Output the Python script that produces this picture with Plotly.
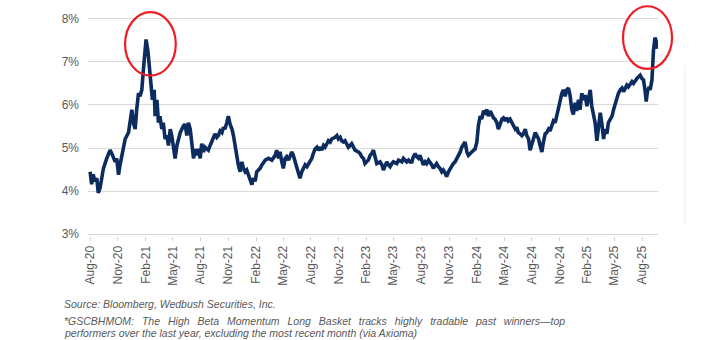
import plotly.graph_objects as go

dates = [
"2020-08-01","2020-08-06","2020-08-11","2020-08-17","2020-08-23","2020-08-28","2020-09-03","2020-09-14","2020-09-25","2020-10-06",
"2020-10-12","2020-10-23","2020-10-28","2020-11-03","2020-11-08","2020-11-14","2020-11-19","2020-11-25","2020-12-06","2020-12-11",
"2020-12-17","2020-12-22","2020-12-28","2021-01-02","2021-01-08","2021-01-13","2021-01-19","2021-01-24","2021-01-30","2021-02-02",
"2021-02-08","2021-02-12","2021-02-18","2021-02-23","2021-03-01","2021-03-04","2021-03-10","2021-03-15","2021-03-20","2021-03-26",
"2021-03-31","2021-04-06","2021-04-12","2021-04-17","2021-04-23","2021-04-28","2021-05-03","2021-05-09","2021-05-15","2021-05-26",
"2021-06-06","2021-06-11","2021-06-17","2021-06-22","2021-06-28","2021-07-03","2021-07-09","2021-07-14","2021-07-20","2021-07-25",
"2021-07-31","2021-08-05","2021-08-11","2021-08-16","2021-08-22","2021-08-27","2021-09-02","2021-09-07","2021-09-13","2021-09-18",
"2021-09-24","2021-09-29","2021-10-05","2021-10-11","2021-10-16","2021-10-21","2021-10-27","2021-11-01","2021-11-07","2021-11-13",
"2021-11-18","2021-11-24","2021-11-29","2021-12-04","2021-12-10","2021-12-16","2021-12-21","2021-12-27","2022-01-01","2022-01-06",
"2022-01-12","2022-01-18","2022-01-23","2022-01-29","2022-02-03","2022-02-14","2022-02-20","2022-03-03","2022-03-14","2022-03-25",
"2022-04-05","2022-04-10","2022-04-16","2022-04-21","2022-04-27","2022-05-02","2022-05-08","2022-05-13","2022-05-19","2022-05-24",
"2022-05-30","2022-06-04","2022-06-10","2022-06-16","2022-06-21","2022-06-26","2022-07-02","2022-07-07","2022-07-13","2022-07-19",
"2022-07-24","2022-07-30","2022-08-04","2022-08-09","2022-08-15","2022-08-21","2022-08-26","2022-09-01","2022-09-06","2022-09-12",
"2022-09-17","2022-09-23","2022-09-28","2022-10-04","2022-10-09","2022-10-20","2022-10-26","2022-10-31","2022-11-06","2022-11-11",
"2022-11-17","2022-11-22","2022-11-28","2022-12-03","2022-12-09","2022-12-14","2022-12-20","2022-12-25","2023-01-05","2023-01-11",
"2023-01-16","2023-01-22","2023-01-27","2023-02-02","2023-02-07","2023-02-13","2023-02-18","2023-02-24","2023-03-01","2023-03-07",
"2023-03-18","2023-03-24","2023-03-29","2023-04-04","2023-04-09","2023-04-15","2023-04-20","2023-04-26","2023-05-01","2023-05-12",
"2023-05-18","2023-05-29","2023-06-03","2023-06-14","2023-06-20","2023-06-25","2023-07-01","2023-07-06","2023-07-12","2023-07-17",
"2023-07-23","2023-07-28","2023-08-03","2023-08-08","2023-08-14","2023-08-19","2023-08-25","2023-08-30","2023-09-05","2023-09-10",
"2023-09-16","2023-09-21","2023-09-27","2023-10-02","2023-10-08","2023-10-13","2023-10-19","2023-10-24","2023-10-30","2023-11-05",
"2023-11-10","2023-11-15","2023-11-21","2023-11-27","2023-12-02","2023-12-08","2023-12-13","2023-12-19","2023-12-24","2023-12-30",
"2024-01-04","2024-01-15","2024-01-26","2024-02-01","2024-02-06","2024-02-12","2024-02-17","2024-02-23","2024-02-28","2024-03-05",
"2024-03-10","2024-03-16","2024-03-21","2024-03-27","2024-04-01","2024-04-07","2024-04-12","2024-04-18","2024-04-24","2024-04-29",
"2024-05-05","2024-05-10","2024-05-15","2024-05-21","2024-05-27","2024-06-01","2024-06-07","2024-06-12","2024-06-17","2024-06-23",
"2024-06-29","2024-07-04","2024-07-10","2024-07-15","2024-07-21","2024-07-26","2024-08-01","2024-08-06","2024-08-12","2024-08-18",
"2024-08-23","2024-08-28","2024-09-03","2024-09-08","2024-09-14","2024-09-19","2024-09-25","2024-09-30","2024-10-06","2024-10-11",
"2024-10-17","2024-10-22","2024-10-28","2024-11-02","2024-11-08","2024-11-13","2024-11-19","2024-11-24","2024-11-30","2024-12-05",
"2024-12-11","2024-12-16","2024-12-22","2024-12-27","2025-01-02","2025-01-07","2025-01-13","2025-01-18","2025-01-24","2025-01-30",
"2025-02-04","2025-02-10","2025-02-15","2025-02-20","2025-02-26","2025-03-04","2025-03-09","2025-03-15","2025-03-20","2025-03-26",
"2025-03-31","2025-04-06","2025-04-11","2025-04-17","2025-04-23","2025-04-28","2025-05-04","2025-05-09","2025-05-14","2025-05-20",
"2025-05-26","2025-05-31","2025-06-06","2025-06-11","2025-06-16","2025-06-22","2025-06-28","2025-07-03","2025-07-09","2025-07-14",
"2025-07-19","2025-07-25","2025-07-31","2025-08-05","2025-08-10","2025-08-14","2025-08-18","2025-08-24","2025-08-27","2025-09-02",
"2025-09-07","2025-09-12","2025-09-16","2025-09-19",
]

values = [
4.45,4.16,4.39,4.23,4.30,3.96,4.08,4.53,4.76,4.95,
4.87,4.68,4.76,4.38,4.61,4.80,4.98,5.21,5.36,5.59,
5.89,5.59,5.44,5.89,6.27,6.20,6.35,6.80,7.41,7.52,
7.26,6.88,6.50,6.12,6.35,5.74,6.12,5.59,5.74,5.44,
5.59,5.21,5.29,5.06,5.44,5.29,5.06,4.76,5.06,5.36,
5.52,5.55,5.29,5.59,5.44,5.14,4.76,4.98,4.83,4.98,
4.76,5.10,4.91,5.02,4.98,4.95,5.06,5.14,5.21,5.33,
5.25,5.29,5.40,5.36,5.48,5.44,5.59,5.74,5.55,5.44,
5.29,4.98,4.76,4.61,4.45,4.68,4.53,4.45,4.49,4.38,
4.23,4.15,4.30,4.23,4.45,4.53,4.61,4.72,4.76,4.72,
4.83,4.95,4.76,4.91,4.68,4.53,4.76,4.80,4.72,4.83,
4.91,4.83,4.68,4.53,4.45,4.30,4.45,4.53,4.61,4.57,
4.64,4.68,4.76,4.87,4.98,5.02,4.95,5.02,4.95,5.06,
5.02,5.10,5.17,5.14,5.21,5.25,5.29,5.21,5.25,5.17,
5.14,5.17,5.10,5.02,5.06,5.10,5.02,4.95,4.91,4.87,
4.80,4.76,4.64,4.68,4.72,4.83,4.87,4.95,4.83,4.64,
4.68,4.61,4.49,4.57,4.68,4.61,4.57,4.64,4.68,4.64,
4.72,4.68,4.76,4.68,4.72,4.68,4.68,4.80,4.87,4.80,
4.76,4.83,4.68,4.61,4.68,4.64,4.72,4.68,4.61,4.53,
4.61,4.64,4.57,4.53,4.45,4.49,4.42,4.34,4.45,4.53,
4.57,4.64,4.68,4.76,4.80,4.91,5.02,5.10,5.14,4.91,
4.83,4.91,4.98,5.14,5.52,5.74,5.67,5.86,5.82,5.89,
5.74,5.86,5.78,5.70,5.67,5.59,5.44,5.59,5.67,5.70,
5.63,5.70,5.63,5.67,5.59,5.52,5.44,5.48,5.36,5.33,
5.29,5.33,5.44,5.29,5.21,4.95,5.14,5.21,5.36,5.29,
5.21,5.06,4.91,5.14,5.33,5.36,5.44,5.40,5.52,5.63,
5.59,5.74,5.89,6.12,6.27,6.35,6.20,6.35,6.39,6.23,
5.89,5.78,6.05,5.86,6.12,5.89,6.27,6.12,6.23,5.97,
6.16,6.35,5.97,5.82,5.59,5.17,5.44,5.82,5.59,5.21,
5.44,5.33,5.59,5.67,5.74,5.89,6.05,6.16,6.27,6.35,
6.39,6.31,6.42,6.46,6.42,6.50,6.54,6.50,6.58,6.61,
6.65,6.69,6.61,6.58,6.35,6.08,6.31,6.42,6.35,6.58,
7.26,7.56,7.48,7.30,
]

y_ticks = [3, 4, 5, 6, 7, 8]
y_tick_labels = ["3%", "4%", "5%", "6%", "7%", "8%"]
x_range = ["2020-07-25", "2025-09-22"]
source_text = "Source: Bloomberg, Wedbush Securities, Inc."
note_line1 = "*GSCBHMOM: The High Beta Momentum Long Basket tracks highly tradable past winners\u2014top"
note_line2 = "performers over the last year, excluding the most recent month (via Axioma)"

GREY_TXT = "#595959"
GRID = "#d9d9d9"
FONT = "Liberation Sans"

# justified look for the first note line: widen word gaps
note_line1_just = note_line1.replace(" ", " \u00a0\u2009")

fig = go.Figure()
fig.add_trace(go.Scatter(
    x=dates, y=values, mode="lines",
    line=dict(color="#0c2b5e", width=3.6),
    hoverinfo="skip",
))

fig.update_layout(
    width=720, height=340,
    margin=dict(l=88, r=62, t=12, b=104),
    paper_bgcolor="white", plot_bgcolor="white",
    showlegend=False,
    font=dict(family=FONT, color=GREY_TXT, size=12),
    xaxis=dict(
        range=x_range, type="date",
        tick0="2020-08-01", dtick="M3", tickformat="%b-%y",
        tickangle=-90, showgrid=False,
        ticks="outside", ticklen=4, tickcolor=GRID, tickwidth=1,
        showline=False, zeroline=False,
        tickfont=dict(family=FONT, size=12, color=GREY_TXT),
    ),
    yaxis=dict(
        range=[2.96, 8.04], tickmode="array",
        tickvals=y_ticks, ticktext=y_tick_labels,
        showgrid=True, gridcolor=GRID, gridwidth=1,
        zeroline=False, showline=False, ticks="",
        ticklabelstandoff=8,
        tickfont=dict(family=FONT, size=12, color=GREY_TXT),
    ),
)

# paper fractions below are relative to the plot area (x: 88..658 px, y: 12..236 px)
fig.add_shape(type="circle", xref="paper", yref="paper",
              x0=0.065, x1=0.154, y0=0.732, y1=1.022,
              line=dict(color="#ee1c25", width=2.2), layer="above")
fig.add_shape(type="circle", xref="paper", yref="paper",
              x0=0.9386, x1=1.0246, y0=0.763, y1=1.049,
              line=dict(color="#ee1c25", width=2.2), layer="above")
# faint page edge on the right
fig.add_shape(type="line", xref="paper", yref="paper",
              x0=1.0474, x1=1.0474, y0=0.05, y1=0.78,
              line=dict(color="#ececec", width=1))

fig.add_annotation(xref="paper", yref="paper", x=-0.045, y=-0.312,
                   xanchor="left", yanchor="middle", showarrow=False,
                   text="<i>" + source_text + "</i>",
                   font=dict(family=FONT, size=10.5, color=GREY_TXT))
fig.add_annotation(xref="paper", yref="paper", x=-0.045, y=-0.386,
                   xanchor="left", yanchor="middle", showarrow=False,
                   text="<i>" + note_line1_just + "</i>",
                   font=dict(family=FONT, size=10.5, color=GREY_TXT))
fig.add_annotation(xref="paper", yref="paper", x=-0.045, y=-0.441,
                   xanchor="left", yanchor="middle", showarrow=False,
                   text="<i>" + note_line2 + "</i>",
                   font=dict(family=FONT, size=10.5, color=GREY_TXT))

fig.write_html("out.html")
